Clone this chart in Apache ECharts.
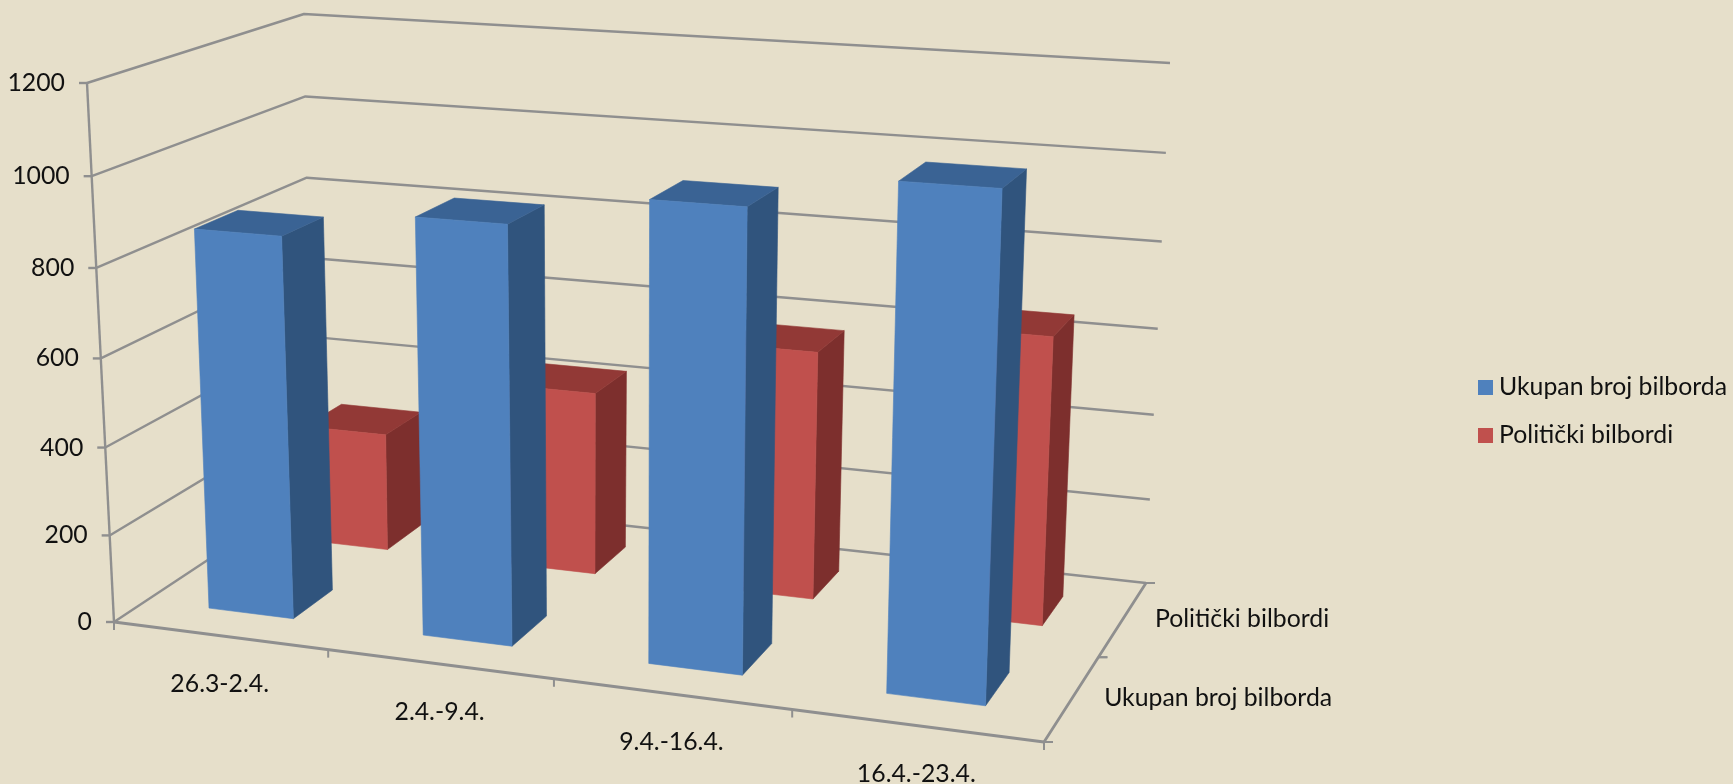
<!DOCTYPE html>
<html>
<head>
<meta charset="utf-8">
<title>Bilbordi</title>
<style>html,body{margin:0;padding:0;background:#E6DFCA}#chart{width:1733px;height:784px}</style>
<script src="https://cdn.jsdelivr.net/npm/echarts@6/dist/echarts.min.js"></script>
</head>
<body>
<div id="chart"></div>
<script>
// Billboard counts per week
const categories = ['26.3-2.4.', '2.4.-9.4.', '9.4.-16.4.', '16.4.-23.4.'];
const depthLabels = ['Ukupan broj bilborda', 'Politički bilbordi'];
const totalBillboards = [865, 930, 1005, 1080];
const politicalBillboards = [282, 431, 574, 655];
const valueTicks = [0, 200, 400, 600, 800, 1000, 1200];

// Box of the 3D scene on screen: corners of the floor and of the ceiling plane,
// ordered front-left, front-right, back-right, back-left.
const FLOOR = [[114, 622], [1044, 742], [1146, 583], [312, 491]];
const CEIL = [[87, 83], [1066, 148], [1170, 63], [304, 14]];
const VERTICAL_BIAS = 1.045;      // upper levels sit further apart than lower ones
const BAR_WIDTH = 0.4, BAR_DEPTH = 0.4;
const GRID = { x: 100, y: 100, w: 800, h: 500 };   // flat scale plane fed to the projection
const LINE = '#8F8F8F';
const FONT_SIZE = 24.8;
const FONT = FONT_SIZE + 'px Lato';
const TEXT = '#111111';

// Unit square -> quadrilateral homography
function quadMap(q) {
  const [p0, p1, p2, p3] = q;
  const d1 = [p1[0] - p2[0], p1[1] - p2[1]], d2 = [p3[0] - p2[0], p3[1] - p2[1]];
  const s = [p0[0] - p1[0] + p2[0] - p3[0], p0[1] - p1[1] + p2[1] - p3[1]];
  const det = d1[0] * d2[1] - d1[1] * d2[0];
  const g = (s[0] * d2[1] - s[1] * d2[0]) / det;
  const h = (d1[0] * s[1] - d1[1] * s[0]) / det;
  const a = p1[0] - p0[0] + g * p1[0], b = p3[0] - p0[0] + h * p3[0];
  const d = p1[1] - p0[1] + g * p1[1], e = p3[1] - p0[1] + h * p3[1];
  return (u, v) => {
    const k = g * u + h * v + 1;
    return [(a * u + b * v + p0[0]) / k, (d * u + e * v + p0[1]) / k];
  };
}
const floorAt = quadMap(FLOOR), ceilAt = quadMap(CEIL);

// u: along the weeks, v: into the scene, w: height, all in 0..1
function project(u, v, w) {
  const t = w / (w + (1 - w) * VERTICAL_BIAS);
  const a = floorAt(u, v), b = ceilAt(u, v);
  return [a[0] + (b[0] - a[0]) * t, a[1] + (b[1] - a[1]) * t];
}
const toU = x => (x - GRID.x) / GRID.w;
const toW = y => (GRID.y + GRID.h - y) / GRID.h;

function seg(points, width) {
  return {
    type: 'polyline',
    shape: { points },
    style: { stroke: LINE, lineWidth: width || 2.4, fill: null, lineJoin: 'round' }
  };
}
function label(text, x, y, align) {
  return {
    type: 'text', x, y,
    style: { text, fill: TEXT, font: FONT, align, verticalAlign: 'middle' }
  };
}
function face(points, fill) {
  return { type: 'polygon', shape: { points }, style: { fill, stroke: fill, lineWidth: 0.6 } };
}

// One 3D column: right side, top and front faces
function barRenderer(depthIndex, colors) {
  return function (params, api) {
    const cat = api.value(0), val = api.value(1);
    const u = toU(api.coord([cat, 0])[0]);
    const du = api.size([1, 0])[0] / GRID.w * BAR_WIDTH / 2;
    const w = toW(api.coord([cat, val])[1]);
    const slot = 1 / depthLabels.length;
    const v = (depthIndex + 0.5) * slot, dv = slot * BAR_DEPTH / 2 ;
    const u0 = u - du, u1 = u + du, v0 = v - dv, v1 = v + dv;
    return {
      type: 'group',
      children: [
        face([project(u1, v0, 0), project(u1, v1, 0), project(u1, v1, w), project(u1, v0, w)], colors.side),
        face([project(u0, v0, w), project(u1, v0, w), project(u1, v1, w), project(u0, v1, w)], colors.top),
        face([project(u0, v0, 0), project(u1, v0, 0), project(u1, v0, w), project(u0, v0, w)], colors.front)
      ]
    };
  };
}

// Value levels: wall lines, tick and tick label
function renderLevel(params, api) {
  const w = toW(api.coord([0, api.value(1)])[1]);
  const a = project(0, 0, w);
  return {
    type: 'group',
    children: [
      seg([a, project(0, 1, w), project(1, 1, w)]),
      seg([a, [a[0] - 8, a[1]]]),
      label(String(api.value(1)), a[0] - 22, a[1], 'right')
    ]
  };
}

// Week axis: tick at each category boundary and the centred label
function renderWeek(params, api) {
  const i = api.value(0);
  const cx = api.coord([i, 0])[0], half = api.size([1, 0])[0] / 2;
  const end = project(toU(cx + half), 0, 0), mid = project(toU(cx), 0, 0);
  const children = [
    seg([end, [end[0], end[1] + 8]], 2),
    label(categories[i], mid[0], mid[1] + 48, 'center')
  ];
  if (i === 0) {
    const start = project(0, 0, 0);
    children.push(seg([start, [start[0], start[1] + 8]], 2));
    children.push(seg([project(0, 0, 0), project(1, 0, 0), project(1, 1, 0)], 2.8));
    children.push(seg([project(0, 0, 0), project(0, 0, 1)], 2.4));
  }
  return { type: 'group', children };
}

// Depth axis: ticks between the slots and one label per series
function renderDepth(params, api) {
  const i = params.dataIndex, n = depthLabels.length;
  const mid = project(1, (i + 0.5) / n, 0);
  const children = [label(depthLabels[i], mid[0] + 32, mid[1], 'left')];
  [i, i + 1].forEach(k => {
    const p = project(1, k / n, 0);
    children.push(seg([p, [p[0] + 9, p[1]]], 2));
  });
  return { type: 'group', children };
}

const BLUE = { front: '#4F81BD', top: '#3A6394', side: '#30547D' };
const RED = { front: '#C0504D', top: '#923936', side: '#7D2F2D' };

const chart = echarts.init(document.getElementById('chart'));
chart.setOption({
  animation: false,
  backgroundColor: '#E6DFCA',
  grid: { left: GRID.x, top: GRID.y, width: GRID.w, height: GRID.h },
  xAxis: { type: 'category', data: categories, show: false },
  yAxis: { type: 'value', min: 0, max: 1200, interval: 200, show: false },
  legend: {
    data: depthLabels,
    orient: 'vertical',
    left: 1478,
    top: 375,
    padding: 0,
    itemWidth: 15,
    itemHeight: 15,
    itemGap: 23,
    icon: 'rect',
    selectedMode: false,
    textStyle: { fontFamily: 'Lato', fontSize: FONT_SIZE, color: TEXT, padding: [0, 0, 0, 1] }
  },
  series: [
    {
      type: 'custom', name: 'levels', z: 1, silent: true,
      renderItem: renderLevel,
      data: valueTicks.map(t => [0, t]),
      encode: { x: 0, y: 1 }
    },
    {
      type: 'custom', name: 'weeks', z: 1, silent: true,
      renderItem: renderWeek,
      data: categories.map((c, i) => [i, 0]),
      encode: { x: 0, y: 1 }
    },
    {
      type: 'custom', name: 'depth', z: 1, silent: true,
      renderItem: renderDepth,
      data: depthLabels.map((c, i) => [0, 0]),
      encode: { x: 0, y: 1 }
    },
    {
      type: 'custom', name: depthLabels[1], z: 2,
      itemStyle: { color: RED.front },
      renderItem: barRenderer(1, RED),
      data: politicalBillboards.map((v, i) => [i, v]),
      encode: { x: 0, y: 1 }
    },
    {
      type: 'custom', name: depthLabels[0], z: 3,
      itemStyle: { color: BLUE.front },
      renderItem: barRenderer(0, BLUE),
      data: totalBillboards.map((v, i) => [i, v]),
      encode: { x: 0, y: 1 }
    }
  ]
});
</script>
</body>
</html>
